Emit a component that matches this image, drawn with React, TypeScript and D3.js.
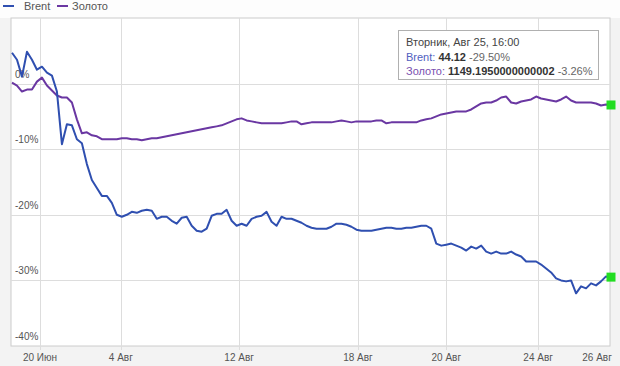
import React from "react";
import * as d3 from "d3";

const brent = [4.70, 3.64, 1.06, 4.85, 3.64, 2.12, 2.58, 1.67, 1.21, -1.21,
  -9.24, -6.21, -6.36, -8.48, -9.09, -12.27, -14.70, -15.91, -17.12, -17.12,
  -18.18, -20.00, -20.30, -20.00, -19.55, -19.70, -19.39, -19.24, -19.39, -20.61,
  -20.30, -20.30, -20.91, -21.36, -20.45, -20.30, -21.67, -22.42, -22.58, -22.12,
  -20.15, -19.85, -19.85, -19.24, -20.91, -21.67, -21.36, -21.67, -20.61, -20.30,
  -20.15, -19.55, -21.06, -21.67, -20.30, -20.61, -20.61, -20.91, -21.21, -21.67,
  -21.97, -22.12, -22.12, -22.12, -21.82, -21.36, -21.36, -21.52, -21.82, -22.27,
  -22.42, -22.42, -22.42, -22.27, -22.12, -21.97, -21.97, -22.12, -22.12, -21.97,
  -21.97, -21.82, -21.67, -21.67, -22.12, -24.39, -24.70, -24.55, -24.39, -24.70,
  -25.00, -25.45, -24.85, -25.15, -24.70, -25.61, -25.91, -25.61, -25.91, -25.91,
  -25.61, -26.06, -26.36, -27.12, -27.12, -27.12, -27.58, -28.18, -28.79, -29.70,
  -30.00, -30.15, -30.00, -31.97, -30.91, -31.21, -30.45, -30.76, -30.15, -29.39,
  -29.50];

const gold = [0.15, -0.30, -1.21, -0.91, -0.91, 0.30, 0.91, -0.30, -1.06, -1.82,
  -2.12, -2.12, -2.88, -5.45, -7.58, -7.42, -7.88, -8.03, -8.48, -8.48,
  -8.48, -8.48, -8.33, -8.33, -8.48, -8.48, -8.64, -8.48, -8.33, -8.33,
  -8.18, -8.03, -7.88, -7.73, -7.58, -7.42, -7.27, -7.12, -6.97, -6.82,
  -6.67, -6.52, -6.36, -6.06, -5.76, -5.45, -5.30, -5.61, -5.76, -5.91,
  -6.06, -6.06, -6.06, -6.06, -6.06, -5.91, -5.76, -5.76, -6.21, -6.06,
  -5.91, -5.91, -5.91, -5.91, -5.91, -5.76, -5.61, -5.76, -5.91, -5.76,
  -5.76, -5.76, -5.76, -5.61, -5.61, -6.06, -5.91, -5.91, -5.91, -5.91,
  -5.91, -5.91, -5.61, -5.45, -5.30, -5.00, -4.70, -4.55, -4.39, -4.24,
  -4.24, -4.24, -3.94, -3.48, -3.03, -2.88, -2.88, -2.58, -2.12, -1.97,
  -2.88, -3.03, -2.73, -2.58, -2.42, -1.97, -2.27, -2.42, -2.58, -2.73,
  -2.42, -1.97, -2.58, -2.88, -2.88, -2.88, -2.88, -3.03, -3.33, -3.18,
  -3.26];

const yTicks = [0, -10, -20, -30, -40];
const xTickLabels = ["20 Июн", "4 Авг", "12 Авг", "18 Авг", "20 Авг", "24 Авг", "26 Авг"];
const xTickIndex = [5.6, 21.8, 45.5, 69.3, 87.0, 105.4, 117.2];
const xTickGrid = [true, true, true, true, true, true, false];

const seriesNames = ["Brent", "Золото"];
const tooltipTitle = "Вторник, Авг 25, 16:00";
const tooltipValues = ["44.12", "1149.1950000000002"];
const tooltipChanges = ["-29.50%", "-3.26%"];

const W = 620, H = 366;
const L = 11, R = 610, T = 18, B = 346;
const BLUE = "#2f4fb0";
const PURPLE = "#6a37a2";
const FONT = "'Liberation Sans', Arial, sans-serif";

export default function App() {
  const n = brent.length;
  const x = d3.scaleLinear().domain([0, n - 1]).range([12, 611]);
  const y = d3.scaleLinear().domain([10, -40]).range([T, B]);
  const line = d3.line<number>().x((_, i) => x(i)).y((d) => y(d)).curve(d3.curveLinear);

  return (
    <svg width={W} height={H} style={{ position: "absolute", left: 0, top: 0 }} fontFamily={FONT}>
      <rect x={0} y={0} width={W} height={H} fill="#f3f3f3" />
      <rect x={0} y={0} width={W} height={T} fill="#fdfdfd" />
      <rect x={L} y={T} width={R - L} height={B - T} fill="#ffffff" stroke="#cccccc" strokeWidth={1} />
      {yTicks.map((t) => (
        <g key={t}>
          {t > -40 && <line x1={L} x2={R} y1={Math.round(y(t)) + 0.5} y2={Math.round(y(t)) + 0.5} stroke="#dddddd" />}
          <text x={15} y={y(t) - 6} fontSize={10} fill="#555">{t}%</text>
        </g>
      ))}
      {xTickIndex.map((t, i) => (
        <g key={i}>
          {xTickGrid[i] && (
            <line x1={Math.round(x(t)) + 0.5} x2={Math.round(x(t)) + 0.5} y1={T} y2={B + 4} stroke="#dddddd" />
          )}
          <text x={x(t)} y={361} fontSize={10} fill="#555" textAnchor="middle">{xTickLabels[i]}</text>
        </g>
      ))}
      <path d={line(gold) || ""} fill="none" stroke={PURPLE} strokeWidth={2} strokeLinejoin="round" />
      <path d={line(brent) || ""} fill="none" stroke={BLUE} strokeWidth={2} strokeLinejoin="round" />
      <rect x={x(n - 1) - 4.5} y={y(brent[n - 1]) - 4.5} width={9} height={9} fill="#22dd22" />
      <rect x={x(n - 1) - 4.5} y={y(gold[n - 1]) - 4.5} width={9} height={9} fill="#22dd22" />
      {/* legend */}
      <line x1={3} x2={14} y1={6} y2={6} stroke={BLUE} strokeWidth={2} />
      <text x={24} y={10} fontSize={11} fill="#555">{seriesNames[0]}</text>
      <line x1={57} x2={68} y1={6} y2={6} stroke={PURPLE} strokeWidth={2} />
      <text x={72} y={10} fontSize={11} fill="#555">{seriesNames[1]}</text>
      {/* tooltip */}
      <rect x={398.5} y={30.5} width={200} height={49} fill="#ffffff" stroke="#b0b0b0" />
      <text x={406} y={46} fontSize={11} fill="#444">{tooltipTitle}</text>
      <text x={406} y={61} fontSize={11}>
        <tspan fill="#5060c0">{seriesNames[0]}: </tspan>
        <tspan fill="#333" fontWeight="bold">{tooltipValues[0]}</tspan>
        <tspan fill="#666"> {tooltipChanges[0]}</tspan>
      </text>
      <text x={406} y={75} fontSize={11}>
        <tspan fill="#7a4fb0">{seriesNames[1]}: </tspan>
        <tspan fill="#333" fontWeight="bold">{tooltipValues[1]}</tspan>
        <tspan fill="#666"> {tooltipChanges[1]}</tspan>
      </text>
    </svg>
  );
}
